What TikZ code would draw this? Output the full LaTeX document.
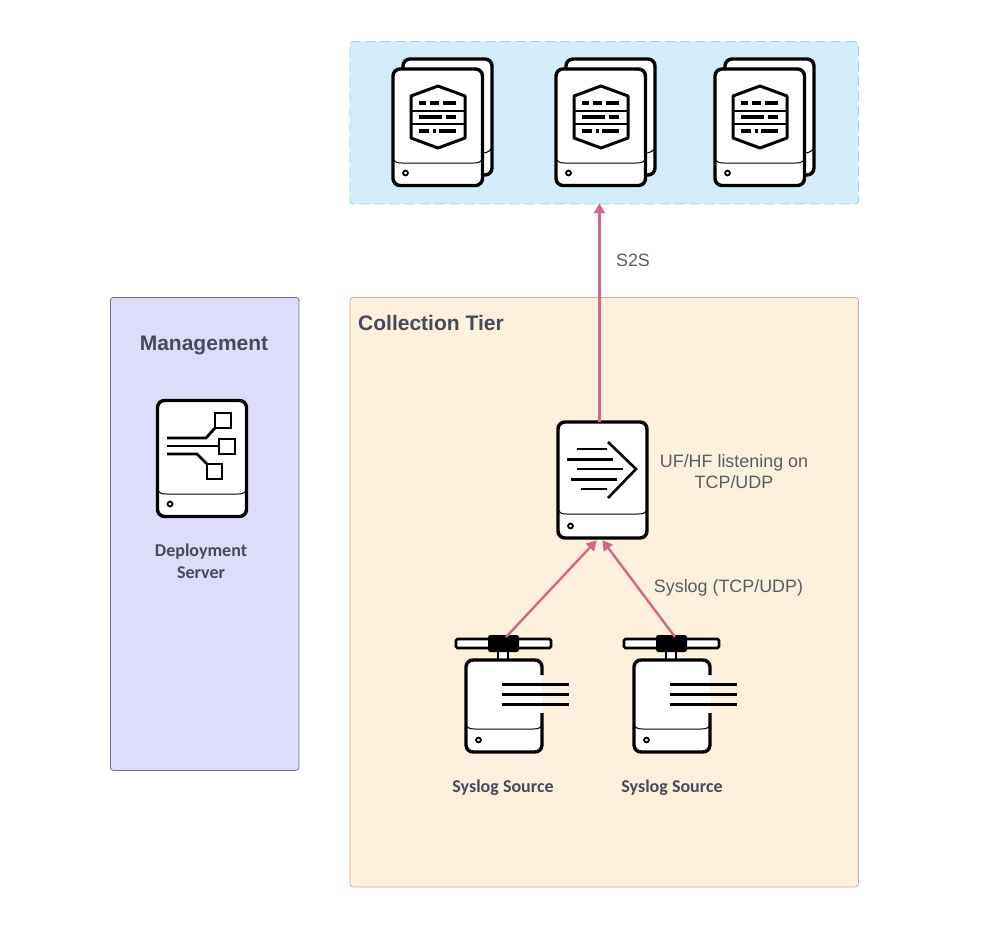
\documentclass[tikz,border=0pt]{standalone}
\usepackage{fontspec}
\setmainfont{Liberation Sans}
\newfontfamily\labelfont{Carlito}
\usetikzlibrary{arrows.meta}
\tikzset{
  tierbox/.style={draw,rounded corners=3pt,line width=0.8pt,inner sep=0pt,anchor=north west},
  serverbox/.style={draw=black,fill=white,line width=3.4pt,rounded corners=7pt,inner sep=0pt,outer sep=0pt,anchor=north west},
  iconline/.style={line width=2.8pt,draw=black},
  flowarrow/.style={line width=2.4pt,draw=flowcolor,-{Triangle[length=10pt,width=11pt]},shorten >=-1pt},
  flowtext/.style={text=textcolor,font=\fontsize{17.9}{21}\selectfont,align=center},
  icontext/.style={text=titlecolor,font=\labelfont\bfseries\fontsize{18}{21.5}\selectfont,align=center},
  tiertext/.style={text=titlecolor,font=\bfseries\fontsize{21}{24}\selectfont},
  % lower edge and hole of a server, from its top left corner
  pics/serverfoot/.style n args={3}{code={
    \draw [line width=1pt] (0,#2-5) .. controls (1,#2-1) and (4,#2) .. (9,#2) -- (#1-9,#2) .. controls (#1-4,#2) and (#1-1,#2-1) .. (#1,#2-5);
    \draw [line width=1.8pt] (12.5,#3) circle [radius=2.4];
  }},
  % hexagon with three rows of dashes
  pics/indexmark/.style={code={
    \draw [line width=3pt,line join=round] (45,17) -- (72,27) -- (72,69) -- (45,79) -- (18,69) -- (18,27) -- cycle;
    \draw [line width=2pt] (18,42) -- (72,42) (18,55) -- (72,55);
    \draw [line width=3.2pt] (26,34) -- (33,34) (37,34) -- (46,34) (50,34) -- (63,34);
    \draw [line width=3.2pt] (26,48) -- (49,48) (53,48) -- (63,48);
    \draw [line width=3.2pt] (26,62) -- (36,62) (40,62) -- (43,62) (46,62) -- (63,62);
  }},
  % syslog box with its mount and the lines leaving it
  pics/sourcemark/.style={code={
    \draw [fill=white,line width=2.8pt,rounded corners=1.5pt] (-10,-21) rectangle (85,-12);
    \draw [fill=white,line width=2.4pt] (32,-12) rectangle (42,0);
    \fill [black,rounded corners=2.5pt] (22,-25) rectangle (53,-8);
    \fill [white,rounded corners=7pt] (0,0) rectangle (76,92);
    \draw [line width=3.4pt,rounded corners=7pt] (76,15) -- (76,0) -- (0,0) -- (0,92) -- (76,92) -- (76,53);
    \draw [line width=3pt] (36,24) -- (103,24) (36,34) -- (103,34) (36,44) -- (103,44);
  }},
}
\begin{document}
\begin{tikzpicture}[x=1pt,y=-1pt]
\definecolor{indexfill}{RGB}{211,237,251}
\definecolor{indexline}{RGB}{158,207,230}
\definecolor{collectfill}{RGB}{253,241,221}
\definecolor{collectline}{RGB}{231,160,170}
\definecolor{managefill}{RGB}{221,221,251}
\definecolor{manageline}{RGB}{112,112,140}
\definecolor{flowcolor}{RGB}{208,104,136}
\definecolor{textcolor}{RGB}{88,93,104}
\definecolor{titlecolor}{RGB}{70,74,90}
\useasboundingbox (0,0) rectangle (986,948);
% tier backgrounds
\node (indextier) [tierbox,draw=indexline,fill=indexfill,dash pattern=on 10pt off 5pt,minimum width=508.5pt,minimum height=162.5pt] at (349.5,41) {};
\node (collecttier) [tierbox,draw=collectline,fill=collectfill,minimum width=508.5pt,minimum height=589.5pt] at (349.5,297) {};
\node (managetier) [tierbox,draw=manageline,fill=managefill,minimum width=188.5pt,minimum height=473pt] at (110,297) {};
\node (collecttitle) [tiertext,anchor=west,inner sep=0pt] at (358,323) {Collection Tier};
\node (managetitle) [tiertext] at (204,345) {Management};
% indexers
\node (idxback1) [serverbox,minimum width=89pt,minimum height=116pt] at (403,59) {};
\draw [line width=1pt] (492,147) .. controls (491,150) and (488,153) .. (483,153);
\node (idx1) [serverbox,minimum width=89.5pt,minimum height=116.5pt] at (393,69) {};
\pic at (393,69) {serverfoot={89.5}{94}{104}};
\pic at (393,69) {indexmark};
\node (idxback2) [serverbox,minimum width=89pt,minimum height=116pt] at (566,59) {};
\draw [line width=1pt] (655,147) .. controls (654,150) and (651,153) .. (646,153);
\node (idx2) [serverbox,minimum width=89.5pt,minimum height=116.5pt] at (556,69) {};
\pic at (556,69) {serverfoot={89.5}{94}{104}};
\pic at (556,69) {indexmark};
\node (idxback3) [serverbox,minimum width=89pt,minimum height=116pt] at (725,59) {};
\draw [line width=1pt] (814,147) .. controls (813,150) and (810,153) .. (805,153);
\node (idx3) [serverbox,minimum width=89.5pt,minimum height=116.5pt] at (715,69) {};
\pic at (715,69) {serverfoot={89.5}{94}{104}};
\pic at (715,69) {indexmark};
% deployment server
\node (deploy) [serverbox,minimum width=89pt,minimum height=116pt] at (157.5,400.5) {};
\pic at (157.5,400.5) {serverfoot={89}{93.5}{103.5}};
\draw [line width=2.6pt,fill=white] (215,413) rectangle (231,428);
\draw [line width=2.6pt,fill=white] (219,439) rectangle (235,454);
\draw [line width=2.6pt,fill=white] (207,464) rectangle (222,479);
\draw [iconline] (167,438) -- (206,438) -- (215,428);
\draw [iconline] (167,446) -- (219,446);
\draw [iconline] (167,454) -- (197,454) -- (207,464);
\node (deploytext) [icontext] at (201,561) {Deployment\\[0pt]Server};
% forwarder
\node (uf) [serverbox,minimum width=89pt,minimum height=116pt] at (558,422) {};
\pic at (558,422) {serverfoot={89}{92}{104}};
\draw [line width=2.6pt] (608,442) -- (636,469) -- (608,498);
\draw [iconline] (577,449) -- (607,449);
\draw [iconline,line width=3pt] (567,459) -- (613,459);
\draw [iconline] (577,469) -- (623,469);
\draw [iconline,line width=3pt] (571,479) -- (617,479);
\draw [iconline] (581,489) -- (607,489);
\node (uftext) [flowtext] at (734,472) {UF/HF listening on\\TCP/UDP};
% syslog sources
\pic at (466,660) {sourcemark};
\pic at (466,660) {serverfoot={76}{69}{80}};
\node (src1) [icontext] at (503,788) {Syslog Source};
\pic at (634,660) {sourcemark};
\pic at (634,660) {serverfoot={76}{69}{80}};
\node (src2) [icontext] at (672,788) {Syslog Source};
% arrows
\coordinate (src1top) at (506,637);
\coordinate (src2top) at (675,637);
\coordinate (ufleft) at (596,541);
\coordinate (ufright) at (603,541);
\draw [flowarrow] (uf.north) ++(-3,0) coordinate (uftop) -- (uftop |- indextier.south);
\draw [flowarrow] (src1top) -- (ufleft);
\draw [flowarrow] (src2top) -- (ufright);
\node (s2stext) [flowtext] at (633,260) {S2S};
\node (syslogtext) [flowtext] at (728.5,588) {Syslog (TCP/UDP)};
\end{tikzpicture}
\end{document}
